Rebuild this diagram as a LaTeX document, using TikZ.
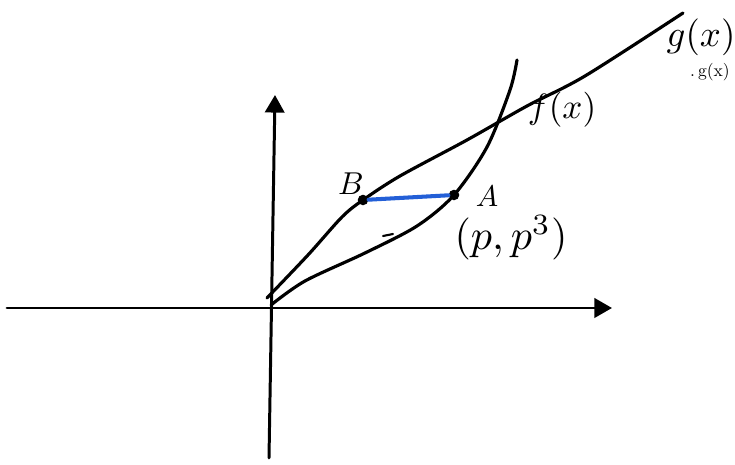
\documentclass[tikz,border=0pt]{standalone}
\usepackage{amsmath}
\usetikzlibrary{arrows.meta}
\usetikzlibrary{positioning}
\usetikzlibrary{calc}
\definecolor{segblue}{RGB}{35,95,215}

\begin{document}
\begin{tikzpicture}[x=0.02cm, y=-0.02cm, line cap=round, line join=round,
    axis/.style={line width=1.7pt, -{Triangle[length=10pt, width=11pt]}},
    curve/.style={line width=1.8pt},
    dot/.style={circle, fill=black, inner sep=0pt, minimum size=6pt},
    lbl/.style={inner sep=0pt, transform shape}]
  \useasboundingbox (0,0) rectangle (735,465);

  % axes
  \coordinate (xl) at (7,308);
  \coordinate (xr) at (612,308);
  \coordinate (yb) at (269,458);
  \coordinate (yt) at (275,95);
  \draw[axis] (xl) -- (xr);
  \draw[axis] (yb) -- (yt);

  % the two points
  \node[dot] (B) at (363,200) {};
  \node[dot] (A) at (454,195) {};

  % g(x)
  \draw[curve] plot[smooth, tension=0.5] coordinates {(267,298) (308,255) (342,217) (363,200) (400,176)
    (467,140) (527,106) (585,76) (683,13)};
  % f(x)
  \draw[curve] plot[smooth, tension=0.5] coordinates {(271,305) (305,281) (365,253) (417,226)
    (454,195) (487,147) (510,90) (517,60)};
  \draw[curve, line width=1.2pt] (383,236) -- (393,234);

  \draw[segblue, line width=2.3pt] (B) -- (A);

  % labels
  \node[lbl, scale=1.8] (Blbl) at (351,184) {$B$};
  \node[lbl, scale=1.7] (Albl) at (487,196) {$A$};
  \node[lbl, scale=2.4] (Apt) at ($(A)+(57,43)$) {$(p, p^3)$};
  \node[lbl, scale=2.0] (flbl) at (562,110) {$f(x)$};
  \node[lbl, scale=2.1] (glbl) at (701,37) {$g(x)$};
  \node[lbl, scale=1.0] (gsmall) at (710,72) {.\,g(x)};
\end{tikzpicture}
\end{document}
